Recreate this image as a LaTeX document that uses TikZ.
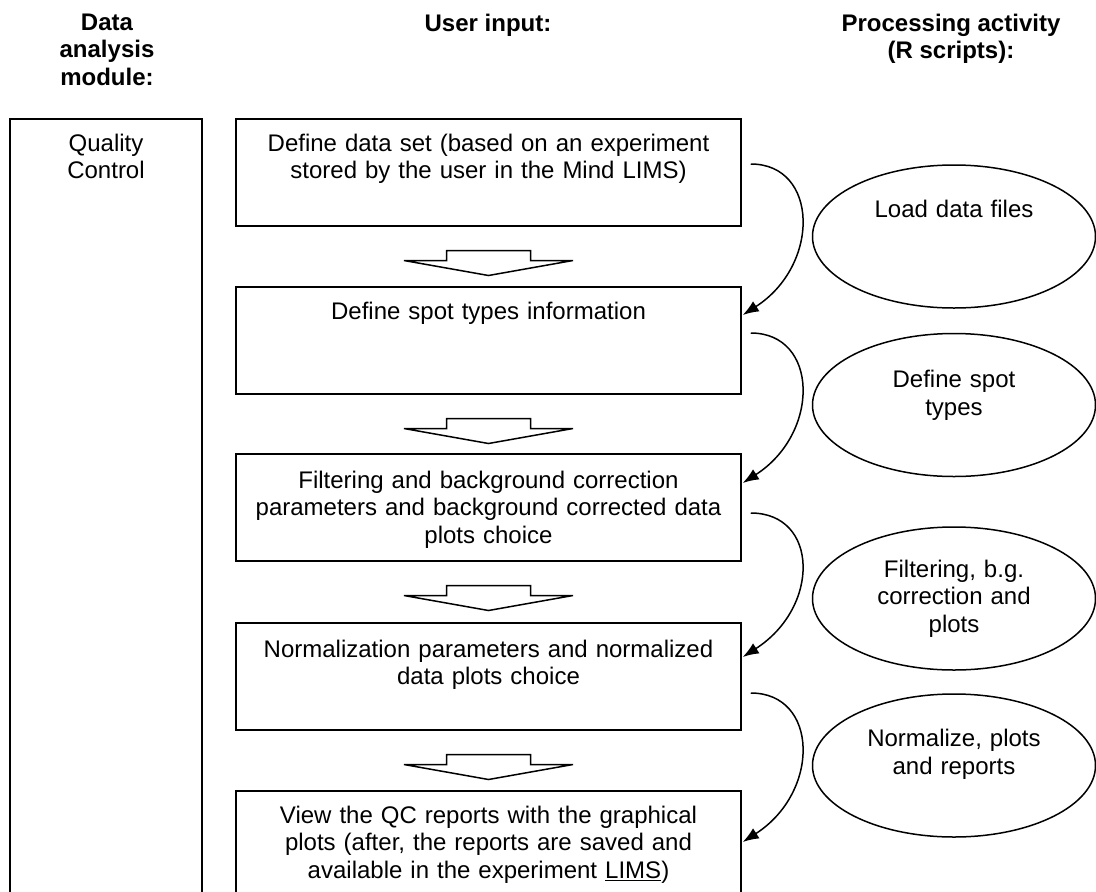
\documentclass[tikz,border=0pt]{standalone}
\usepackage{fontspec}
\setmainfont{Liberation Sans}
\usetikzlibrary{arrows.meta, shapes.geometric, positioning}
\tikzset{every picture/.style={x=1pt,y=-1pt,line width=1.5pt},
  stepbox/.style={draw, minimum width=505pt, minimum height=107pt, inner sep=0pt, anchor=north},
  steptext/.style={anchor=north, inner sep=0pt, text width=495pt, align=center, font=\fontsize{24}{27.6}\selectfont},
  script/.style={ellipse, draw, minimum width=283pt, minimum height=143pt, inner sep=0pt},
  head/.style={anchor=north, inner sep=0pt, align=center, font=\fontsize{24}{27.6}\selectfont\bfseries},
  flow/.style={-{Latex[length=16pt,width=12pt]}},
  fatarrow/.style={fill=white}}

\begin{document}
\begin{tikzpicture}
        \useasboundingbox (0,0) rectangle (1096,892);

        % column headers
        \node[head] (hmod) at (107,13) {Data\\analysis\\module:};
        \node[head] (huser) at (488,13) {User input:};
        \node[head] (hproc) at (951,13) {Processing activity\\(R scripts):};

        % module column
        \node[draw, minimum width=192pt, minimum height=800pt, anchor=north] (qc) at (106,118) {};
        \node[steptext, text width=180pt, below=15pt of qc.north] (tqc) {Quality\\Control};

        % user input steps
        \node[stepbox] (box1) at (488.5,118) {};
        \node[stepbox] (box2) at (488.5,286) {};
        \node[stepbox] (box3) at (488.5,453) {};
        \node[stepbox] (box4) at (488.5,622) {};
        \node[stepbox] (box5) at (488.5,790) {};

        \node[steptext, below=15pt of box1.north] (t1) {Define data set (based on an experiment\\stored by the user in the Mind LIMS)};
        \node[steptext, below=15pt of box2.north] (t2) {Define spot types information};
        \node[steptext, below=17pt of box3.north] (t3) {Filtering and background correction\\parameters and background corrected data\\plots choice};
        \node[steptext, below=17pt of box4.north] (t4) {Normalization parameters and normalized\\data plots choice};
        \node[steptext, below=15pt of box5.north] (t5) {View the QC reports with the graphical\\plots (after, the reports are saved and\\available in the experiment \underline{LIMS})};

        % R scripts
        \node[script] (load) at (954,236.5) {};
        \node[script] (spot) at (954,405) {};
        \node[script] (filt) at (954,598.5) {};
        \node[script] (norm) at (954,765.5) {};

        \node[steptext, text width=260pt, below=35pt of load.north] (tload) {Load data files};
        \node[steptext, text width=260pt, below=37pt of spot.north] (tspot) {Define spot\\types};
        \node[steptext, text width=260pt, below=33pt of filt.north] (tfilt) {Filtering, b.g.\\correction and\\plots};
        \node[steptext, text width=260pt, below=35pt of norm.north] (tnorm) {Normalize, plots\\and reports};

        \foreach \from in {box1, box2, box3, box4}
        \draw[fatarrow] ([yshift=-24pt]\from.south) -- ++(-42,0) -- ++(0,10) -- ++(-42.5,0)
          -- ++(84.5,15) -- ++(84.5,-15) -- ++(-42.5,0) -- ++(0,-10) -- cycle;

        \foreach \from/\to/\a/\b in {
          box1/box2/46/29, box2/box3/47/30,
          box3/box4/60/35, box4/box5/71/52}
        \draw[flow] ([shift={(9,\a)}]\from.north east) .. controls +(68,0) and +(78,-50) .. ([shift={(1,\b)}]\to.north east);
    \end{tikzpicture}
\end{document}
